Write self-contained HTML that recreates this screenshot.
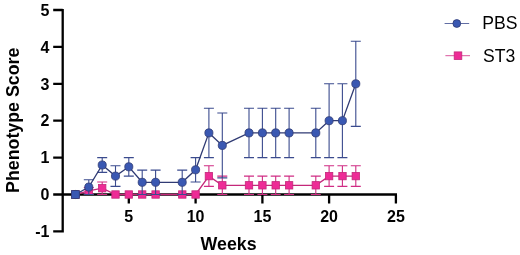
<!DOCTYPE html>
<html><head><meta charset="utf-8"><title>Chart</title>
<style>
html,body{margin:0;padding:0;background:#fff;}
body{width:520px;height:255px;overflow:hidden;font-family:"Liberation Sans",sans-serif;}
svg{display:block;}
</style></head><body>
<svg width="520" height="255" viewBox="0 0 520 255">
<rect width="520" height="255" fill="#fff"/>
<path d="M62.7 8.9V232.5M53.2 231.4H62.7M53.2 194.5H62.7M53.2 157.6H62.7M53.2 120.7H62.7M53.2 83.8H62.7M53.2 46.9H62.7M53.2 10.0H62.7M61.7 194.5H397.0M128.8 194.5V203.5M195.6 194.5V203.5M262.4 194.5V203.5M329.1 194.5V203.5M395.9 194.5V203.5" stroke="#000" stroke-width="2.3" fill="none"/>
<path d="M88.8 187.5V194.1M83.8 187.5h10M83.8 194.1h10M102.2 182.0V194.5M97.2 182.0h10M97.2 194.5h10M208.9 165.7V186.4M203.9 165.7h10M203.9 186.4h10M222.3 176.1V194.5M217.3 176.1h10M217.3 194.5h10M249.0 176.1V194.5M244.0 176.1h10M244.0 194.5h10M262.4 176.1V194.5M257.4 176.1h10M257.4 194.5h10M275.7 176.1V194.5M270.7 176.1h10M270.7 194.5h10M289.1 176.1V194.5M284.1 176.1h10M284.1 194.5h10M315.8 176.1V194.5M310.8 176.1h10M310.8 194.5h10M329.1 165.7V186.4M324.1 165.7h10M324.1 186.4h10M342.4 165.7V186.4M337.4 165.7h10M337.4 186.4h10M355.8 165.7V186.4M350.8 165.7h10M350.8 186.4h10" stroke="#d02c84" stroke-width="1.1" fill="none"/>
<polyline points="75.5,194.5 88.8,190.8 102.2,188.2 115.5,194.5 128.8,194.5 142.2,194.5 155.6,194.5 182.2,194.5 195.6,194.5 208.9,176.1 222.3,185.3 249.0,185.3 262.4,185.3 275.7,185.3 289.1,185.3 315.8,185.3 329.1,176.1 342.4,176.1 355.8,176.1" fill="none" stroke="#c4287a" stroke-width="1.3"/>
<rect x="71.8" y="190.8" width="7.4" height="7.4" fill="#ee2b96" stroke="#c4287a" stroke-width="0.8"/>
<rect x="85.1" y="187.1" width="7.4" height="7.4" fill="#ee2b96" stroke="#c4287a" stroke-width="0.8"/>
<rect x="98.5" y="184.5" width="7.4" height="7.4" fill="#ee2b96" stroke="#c4287a" stroke-width="0.8"/>
<rect x="111.8" y="190.8" width="7.4" height="7.4" fill="#ee2b96" stroke="#c4287a" stroke-width="0.8"/>
<rect x="125.1" y="190.8" width="7.4" height="7.4" fill="#ee2b96" stroke="#c4287a" stroke-width="0.8"/>
<rect x="138.5" y="190.8" width="7.4" height="7.4" fill="#ee2b96" stroke="#c4287a" stroke-width="0.8"/>
<rect x="151.9" y="190.8" width="7.4" height="7.4" fill="#ee2b96" stroke="#c4287a" stroke-width="0.8"/>
<rect x="178.6" y="190.8" width="7.4" height="7.4" fill="#ee2b96" stroke="#c4287a" stroke-width="0.8"/>
<rect x="191.9" y="190.8" width="7.4" height="7.4" fill="#ee2b96" stroke="#c4287a" stroke-width="0.8"/>
<rect x="205.2" y="172.4" width="7.4" height="7.4" fill="#ee2b96" stroke="#c4287a" stroke-width="0.8"/>
<rect x="218.6" y="181.6" width="7.4" height="7.4" fill="#ee2b96" stroke="#c4287a" stroke-width="0.8"/>
<rect x="245.3" y="181.6" width="7.4" height="7.4" fill="#ee2b96" stroke="#c4287a" stroke-width="0.8"/>
<rect x="258.7" y="181.6" width="7.4" height="7.4" fill="#ee2b96" stroke="#c4287a" stroke-width="0.8"/>
<rect x="272.0" y="181.6" width="7.4" height="7.4" fill="#ee2b96" stroke="#c4287a" stroke-width="0.8"/>
<rect x="285.4" y="181.6" width="7.4" height="7.4" fill="#ee2b96" stroke="#c4287a" stroke-width="0.8"/>
<rect x="312.1" y="181.6" width="7.4" height="7.4" fill="#ee2b96" stroke="#c4287a" stroke-width="0.8"/>
<rect x="325.4" y="172.4" width="7.4" height="7.4" fill="#ee2b96" stroke="#c4287a" stroke-width="0.8"/>
<rect x="338.8" y="172.4" width="7.4" height="7.4" fill="#ee2b96" stroke="#c4287a" stroke-width="0.8"/>
<rect x="352.1" y="172.4" width="7.4" height="7.4" fill="#ee2b96" stroke="#c4287a" stroke-width="0.8"/>
<path d="M88.8 179.7V194.5M83.8 179.7h10M83.8 194.5h10M102.2 157.6V172.4M97.2 157.6h10M97.2 172.4h10M115.5 165.7V186.4M110.5 165.7h10M110.5 186.4h10M128.8 157.6V176.1M123.8 157.6h10M123.8 176.1h10M142.2 170.1V194.5M137.2 170.1h10M137.2 194.5h10M155.6 170.1V194.5M150.6 170.1h10M150.6 194.5h10M182.2 170.1V194.5M177.2 170.1h10M177.2 194.5h10M195.6 157.6V182.0M190.6 157.6h10M190.6 182.0h10M208.9 108.2V157.6M203.9 108.2h10M203.9 157.6h10M222.3 113.0V177.9M217.3 113.0h10M217.3 177.9h10M249.0 108.2V157.6M244.0 108.2h10M244.0 157.6h10M262.4 108.2V157.6M257.4 108.2h10M257.4 157.6h10M275.7 108.2V157.6M270.7 108.2h10M270.7 157.6h10M289.1 108.2V157.6M284.1 108.2h10M284.1 157.6h10M315.8 108.2V157.6M310.8 108.2h10M310.8 157.6h10M329.1 83.8V157.6M324.1 83.8h10M324.1 157.6h10M342.4 83.8V157.6M337.4 83.8h10M337.4 157.6h10M355.8 41.2V126.4M350.8 41.2h10M350.8 126.4h10" stroke="#3b4b8e" stroke-width="1.1" fill="none"/>
<polyline points="75.5,194.5 88.8,187.1 102.2,165.0 115.5,176.1 128.8,166.8 142.2,182.3 155.6,182.3 182.2,182.3 195.6,169.8 208.9,132.9 222.3,145.4 249.0,132.9 262.4,132.9 275.7,132.9 289.1,132.9 315.8,132.9 329.1,120.7 342.4,120.7 355.8,83.8" fill="none" stroke="#303b74" stroke-width="1.3"/>
<circle cx="75.5" cy="194.5" r="4.05" fill="#3a58b2" stroke="#303b74" stroke-width="0.8"/>
<circle cx="88.8" cy="187.1" r="4.05" fill="#3a58b2" stroke="#303b74" stroke-width="0.8"/>
<circle cx="102.2" cy="165.0" r="4.05" fill="#3a58b2" stroke="#303b74" stroke-width="0.8"/>
<circle cx="115.5" cy="176.1" r="4.05" fill="#3a58b2" stroke="#303b74" stroke-width="0.8"/>
<circle cx="128.8" cy="166.8" r="4.05" fill="#3a58b2" stroke="#303b74" stroke-width="0.8"/>
<circle cx="142.2" cy="182.3" r="4.05" fill="#3a58b2" stroke="#303b74" stroke-width="0.8"/>
<circle cx="155.6" cy="182.3" r="4.05" fill="#3a58b2" stroke="#303b74" stroke-width="0.8"/>
<circle cx="182.2" cy="182.3" r="4.05" fill="#3a58b2" stroke="#303b74" stroke-width="0.8"/>
<circle cx="195.6" cy="169.8" r="4.05" fill="#3a58b2" stroke="#303b74" stroke-width="0.8"/>
<circle cx="208.9" cy="132.9" r="4.05" fill="#3a58b2" stroke="#303b74" stroke-width="0.8"/>
<circle cx="222.3" cy="145.4" r="4.05" fill="#3a58b2" stroke="#303b74" stroke-width="0.8"/>
<circle cx="249.0" cy="132.9" r="4.05" fill="#3a58b2" stroke="#303b74" stroke-width="0.8"/>
<circle cx="262.4" cy="132.9" r="4.05" fill="#3a58b2" stroke="#303b74" stroke-width="0.8"/>
<circle cx="275.7" cy="132.9" r="4.05" fill="#3a58b2" stroke="#303b74" stroke-width="0.8"/>
<circle cx="289.1" cy="132.9" r="4.05" fill="#3a58b2" stroke="#303b74" stroke-width="0.8"/>
<circle cx="315.8" cy="132.9" r="4.05" fill="#3a58b2" stroke="#303b74" stroke-width="0.8"/>
<circle cx="329.1" cy="120.7" r="4.05" fill="#3a58b2" stroke="#303b74" stroke-width="0.8"/>
<circle cx="342.4" cy="120.7" r="4.05" fill="#3a58b2" stroke="#303b74" stroke-width="0.8"/>
<circle cx="355.8" cy="83.8" r="4.05" fill="#3a58b2" stroke="#303b74" stroke-width="0.8"/>
<rect x="71.5" y="190.6" width="7.8" height="7.8" fill="#3a58b2" stroke="#303b74" stroke-width="0.8"/>
<path d="M444.6 23.5H469.2" stroke="#3b4b8e" stroke-width="1" opacity="0.8"/><circle cx="456.8" cy="23.5" r="3.9" fill="#3a58b2" stroke="#303b74" stroke-width="0.8"/>
<path d="M445.4 55.7H470" stroke="#d02c84" stroke-width="1" opacity="0.8"/><rect x="454.2" y="51.9" width="7.6" height="7.6" fill="#ee2b96" stroke="#c4287a" stroke-width="0.8"/>
<g font-family="Liberation Sans, sans-serif" fill="#000" opacity="0.999">
<g font-weight="bold" font-size="16" text-anchor="end">
<text x="49.5" y="237.1">-1</text>
<text x="49.5" y="200.2">0</text>
<text x="49.5" y="163.3">1</text>
<text x="49.5" y="126.4">2</text>
<text x="49.5" y="89.5">3</text>
<text x="49.5" y="52.6">4</text>
<text x="49.5" y="15.7">5</text>
</g>
<g font-weight="bold" font-size="16" text-anchor="middle">
<text x="128.8" y="222.4">5</text>
<text x="195.6" y="222.4">10</text>
<text x="262.4" y="222.4">15</text>
<text x="329.1" y="222.4">20</text>
<text x="395.9" y="222.4">25</text>
</g>
<text font-weight="bold" font-size="17.8" text-anchor="middle" x="228.6" y="249.7">Weeks</text>
<text font-weight="bold" font-size="17.8" text-anchor="middle" transform="translate(19.2 120.3) rotate(-90)">Phenotype Score</text>
<text font-size="17.6" x="482.3" y="29.3">PBS</text>
<text font-size="17.6" x="483" y="61.5">ST3</text>
</g>
</svg>
</body></html>
